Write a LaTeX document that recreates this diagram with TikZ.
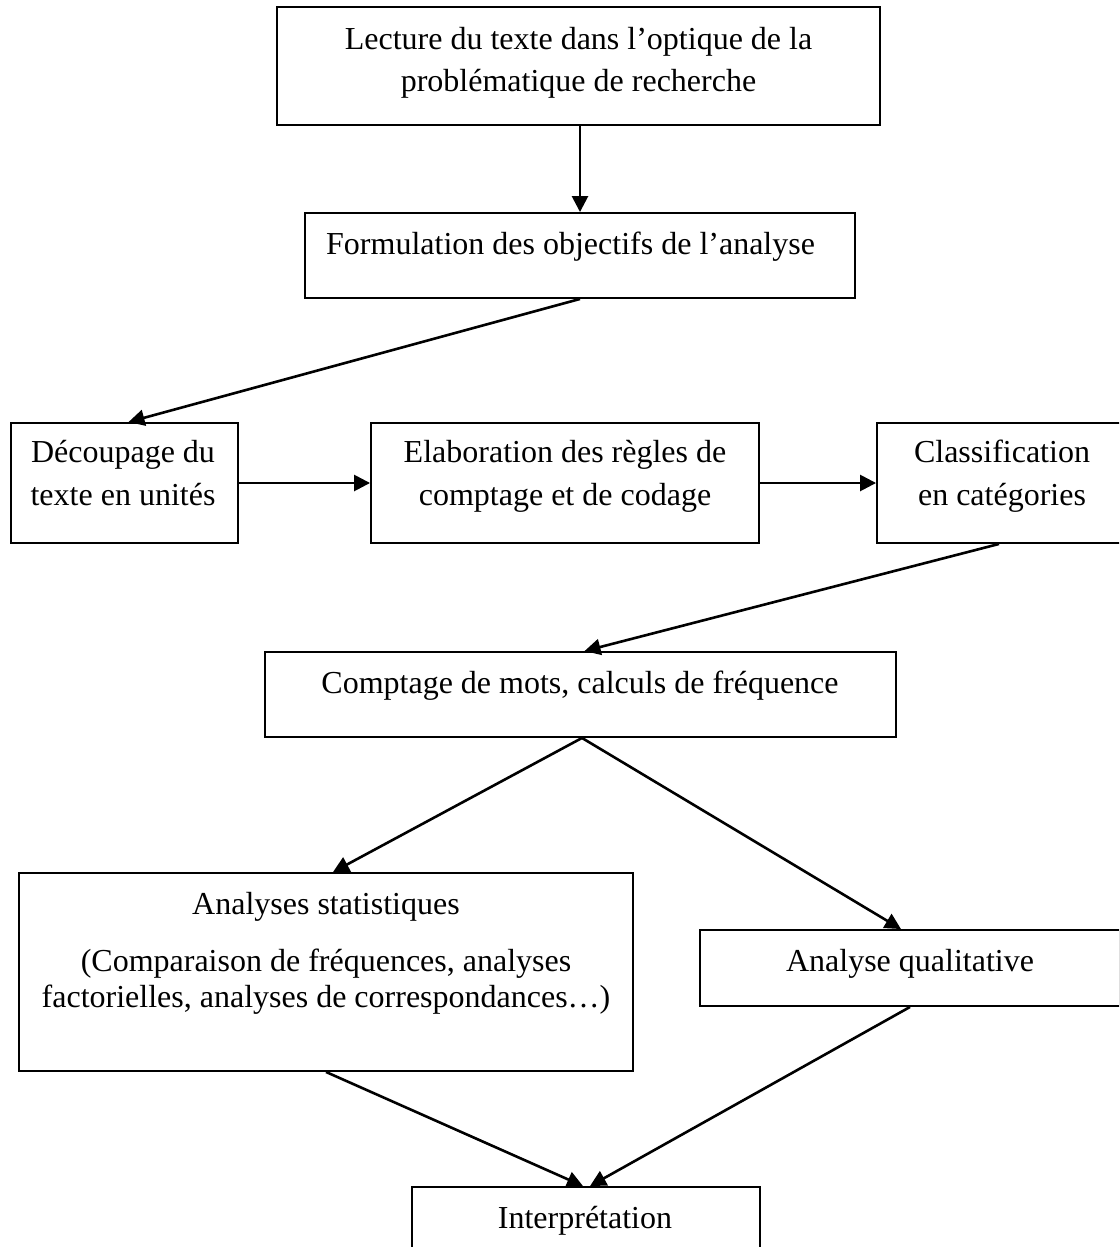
\documentclass[tikz,border=0pt]{standalone}
\usepackage{fontspec}
\setmainfont{Liberation Serif}
\usetikzlibrary{arrows.meta}
\begin{document}
\begin{tikzpicture}[x=1pt,y=-1pt,
  box/.style={draw, line width=1.9pt, rectangle, inner sep=0pt},
  txt/.style={anchor=base, inner sep=0pt, font=\fontsize{32}{40}\selectfont},
  arr/.style={line width=2.6pt, -{Triangle[length=16pt,width=16pt]}}]
\useasboundingbox (0,0) rectangle (1119,1247);
\clip (0,0) rectangle (1119,1247);

% boxes
\node[box, minimum width=603pt, minimum height=118pt] (b1) at (578.5,66) {};
\node[box, minimum width=550pt, minimum height=85pt]  (b2) at (580,255.5) {};
\node[box, minimum width=227pt, minimum height=120pt] (b3) at (124.5,483) {};
\node[box, minimum width=388pt, minimum height=120pt] (b4) at (565,483) {};
\node[box, minimum width=250pt, minimum height=120pt] (b5) at (1002,483) {};
\node[box, minimum width=631pt, minimum height=85pt]  (b6) at (580.5,694.5) {};
\node[box, minimum width=614pt, minimum height=198pt] (b7) at (326,972) {};
\node[box, minimum width=420pt, minimum height=76pt]  (b8) at (910,968) {};
\node[box, minimum width=348pt, minimum height=83pt]  (b9) at (586,1228.5) {};

% texts
\node[txt] (t1a) at (578.5,49) {Lecture du texte dans l’optique de la};
\node[txt] (t1b) at (578.5,91) {problématique de recherche};
\node[txt, anchor=base west] (t2) at (326,254) {Formulation des objectifs de l’analyse};
\node[txt] (t3a) at (123,462) {Découpage du};
\node[txt] (t3b) at (123,505) {texte en unités};
\node[txt] (t4a) at (565,462) {Elaboration des règles de};
\node[txt] (t4b) at (565,505) {comptage et de codage};
\node[txt] (t5a) at (1002,462) {Classification};
\node[txt] (t5b) at (1002,505) {en catégories};
\node[txt] (t6) at (580,693) {Comptage de mots, calculs de fréquence};
\node[txt] (t7a) at (326,914) {Analyses statistiques};
\node[txt] (t7b) at (326,971) {(Comparaison de fréquences, analyses};
\node[txt] (t7c) at (326,1007) {factorielles, analyses de correspondances…)};
\node[txt] (t8) at (910,971) {Analyse qualitative};
\node[txt] (t9) at (585,1228) {Interprétation};

% connectors
\draw[arr] (b2.north |- b1.south) -- (b2.north);
\draw[arr] (b2.south) -- ([xshift=4pt]b3.north);
\draw[arr] (b3.east) -- (b4.west);
\draw[arr] (b4.east) -- (b5.west);
\draw[arr] ([xshift=-3pt]b5.south) -- ([xshift=4pt]b6.north);
\draw[arr] ([xshift=1.5pt]b6.south) -- ([xshift=7pt]b7.north);
\draw[arr] ([xshift=1.5pt]b6.south) -- ([xshift=-9pt]b8.north);
\draw[arr] (b7.south) -- ([xshift=-3pt]b9.north);
\draw[arr] (b8.south) -- ([xshift=4pt]b9.north);
\end{tikzpicture}
\end{document}
